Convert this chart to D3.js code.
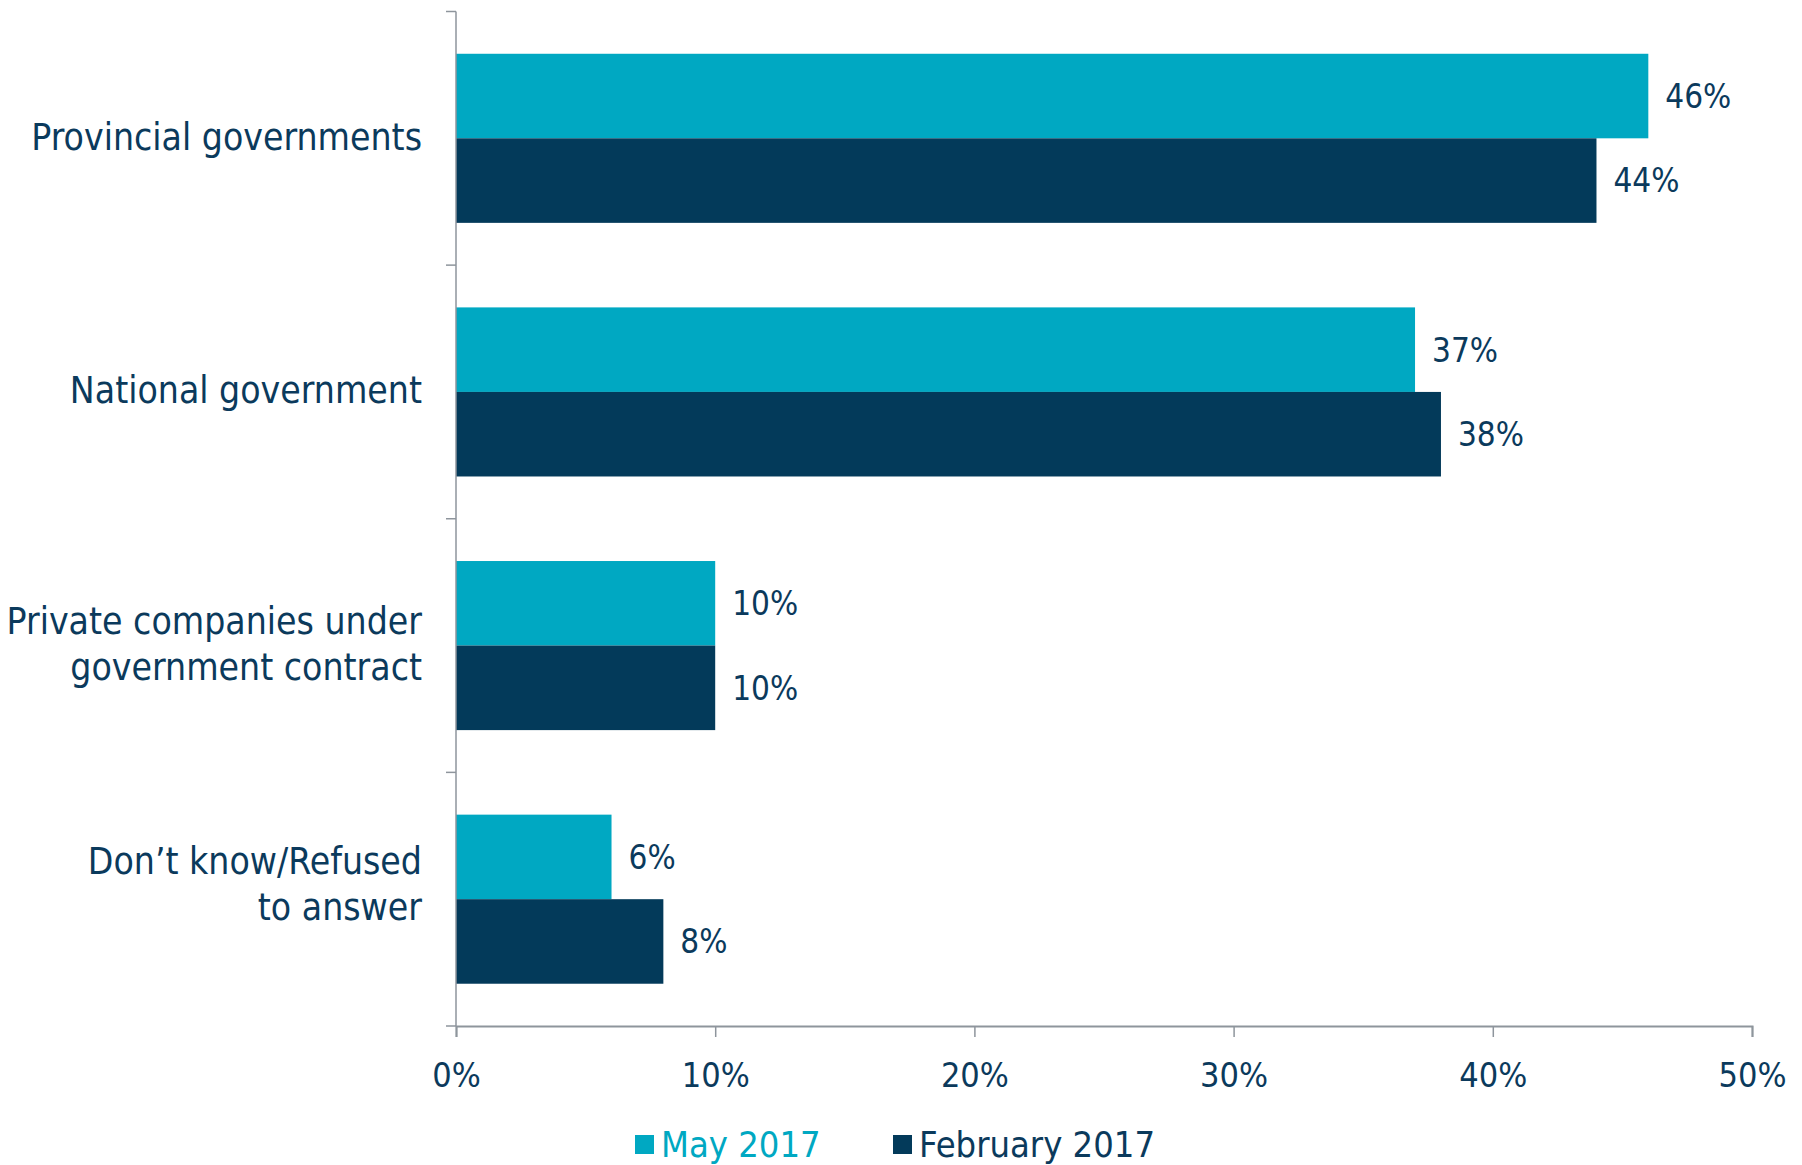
<!DOCTYPE html>
<html><head><meta charset="utf-8">
<script src="https://cdn.jsdelivr.net/npm/d3@7"></script>
<style>body{margin:0;background:#fff}svg{display:block}</style>
</head><body><svg id="c" width="1802" height="1165"></svg>
<script>
const categories = [["Provincial governments"],["National government"],["Private companies under","government contract"],["Don\u2019t know/Refused","to answer"]];
const seriesNames = ["May 2017","February 2017"];
const may2017 = [46,37,10,6];
const feb2017 = [44,38,10,8];
const xTicks = [0,10,20,30,40,50];
const colors = ["#00A8C2","#033A5A"];
const textColor = "#0B3A5C";
const font = "'DejaVu Sans Condensed','DejaVu Sans',sans-serif";

(function(){
const svg = d3.select("#c");
const mLeft = 456, mRight = 1752, mTop = 11.5, mBottom = 1026;
const x = d3.scaleLinear().domain([0,50]).range([mLeft,mRight]);
const idx = categories.map((d,i)=>i);
const y = d3.scaleBand().domain(idx).range([mTop,mBottom]).padding(0);
const bw = y.bandwidth();
const ys = d3.scaleBand().domain(seriesNames).range([bw/6, bw*5/6]).padding(0);
const values = [may2017, feb2017];

// bars
seriesNames.forEach((s,si)=>{
  svg.append("g").selectAll("rect").data(values[si]).join("rect")
    .attr("x", x(0)).attr("y",(d,i)=>y(i)+ys(s))
    .attr("width",d=>x(d)-x(0)).attr("height",ys.bandwidth())
    .attr("fill",colors[si]);
  svg.append("g").selectAll("text").data(values[si]).join("text")
    .attr("x",d=>x(d)+17).attr("y",(d,i)=>y(i)+ys(s)+ys.bandwidth()/2)
    .attr("dy","0.36em").attr("font-family",font).attr("font-size",33)
    .attr("fill",textColor).text(d=>d+"%");
});

// x axis
const xa = svg.append("g").attr("transform",`translate(0,${mBottom})`)
  .call(d3.axisBottom(x).tickValues(xTicks).tickFormat(d=>d+"%").tickSize(11).tickPadding(26));
xa.select(".domain").attr("stroke","#8E959C").attr("stroke-width",2);
xa.selectAll(".tick line").attr("stroke","#8E959C").attr("stroke-width",1.5);
xa.selectAll("text").attr("font-family",font).attr("font-size",34).attr("fill",textColor);

// y axis line and ticks
const yTickPos = idx.map(i=>y(i)).concat([mBottom]);
svg.append("line").attr("x1",mLeft).attr("x2",mLeft).attr("y1",mTop).attr("y2",mBottom)
  .attr("stroke","#8E959C").attr("stroke-width",1.5);
svg.append("g").selectAll("line").data(yTickPos).join("line")
  .attr("x1",mLeft-10).attr("x2",mLeft).attr("y1",d=>d).attr("y2",d=>d)
  .attr("stroke","#8E959C").attr("stroke-width",1.5);

// category labels
const lh = 46;
svg.append("g").selectAll("text").data(categories).join("text")
  .attr("text-anchor","end").attr("font-family",font).attr("font-size",37).attr("fill",textColor)
  .each(function(lines,i){
    const shift = i === categories.length-1 ? -16 : -2;
    const cy = y(i)+bw/2+shift;
    const n = lines.length;
    d3.select(this).selectAll("tspan").data(lines).join("tspan")
      .attr("x",422).attr("y",(d,j)=>cy+(j-(n-1)/2)*lh).attr("dy","0.36em").text(d=>d);
  });

// legend
const legX = [635, 893];
const lg = svg.append("g");
seriesNames.forEach((s,si)=>{
  lg.append("rect").attr("x",legX[si]).attr("y",1135).attr("width",19).attr("height",19).attr("fill",colors[si]);
  lg.append("text").attr("x",legX[si]+26).attr("y",1144).attr("dy","0.36em")
    .attr("font-family",font).attr("font-size",36).attr("fill",si===0?colors[0]:textColor).text(s);
});
})();
</script></body></html>
